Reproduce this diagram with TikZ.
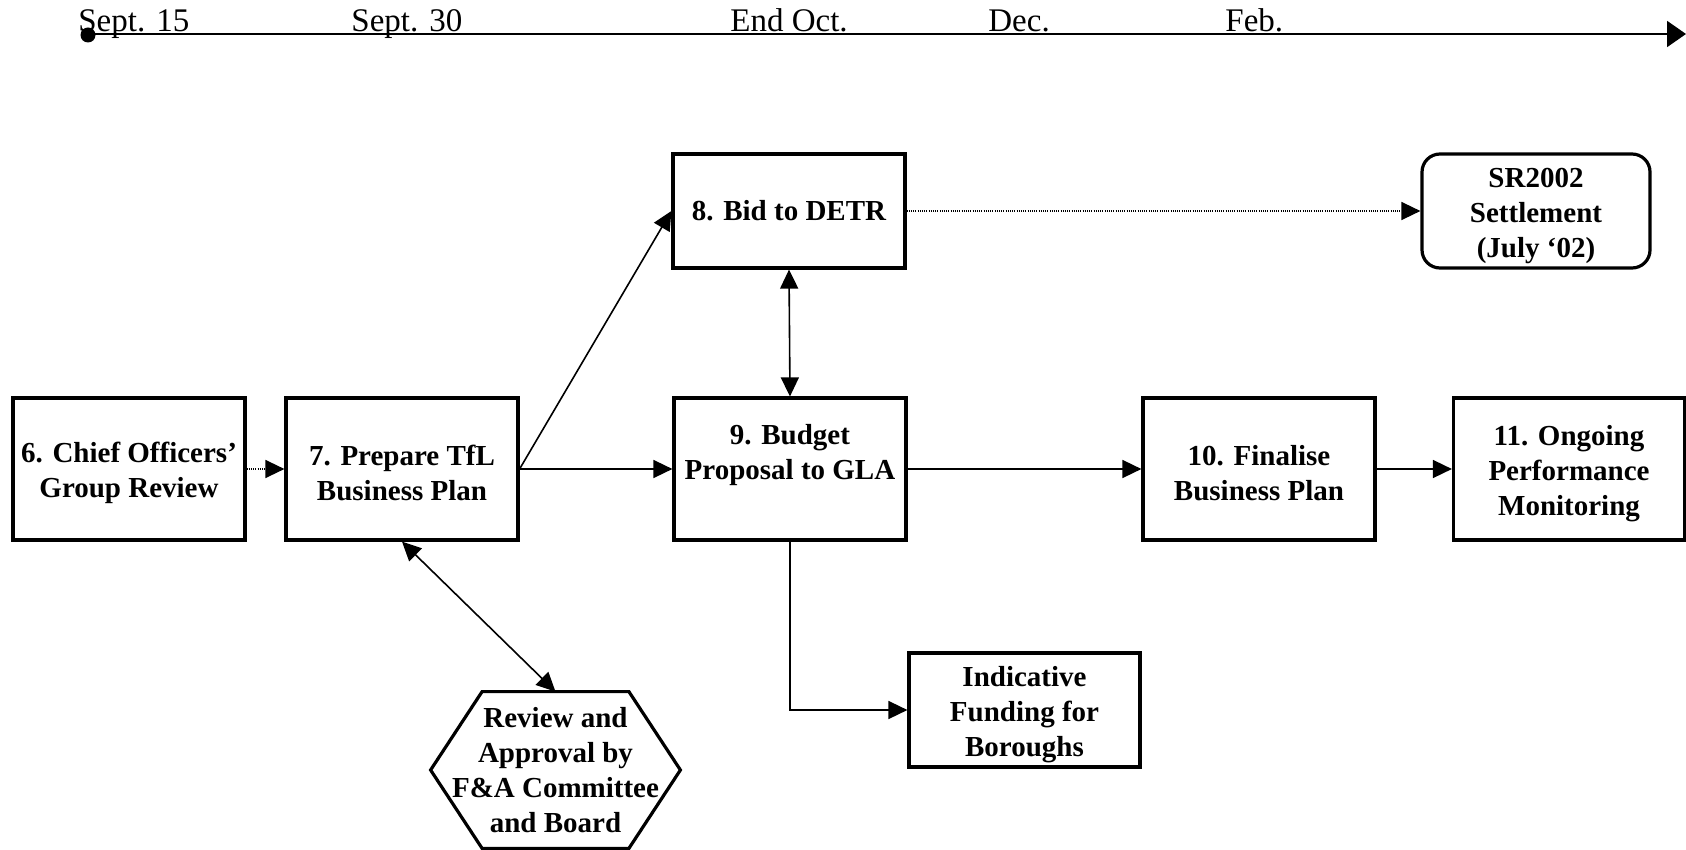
\documentclass[tikz,border=0pt]{standalone}
\usepackage{fontspec}
\setmainfont{Liberation Serif}
\usetikzlibrary{arrows.meta,calc}
\newcommand\mytopstrut{\rule{0pt}{14.5pt}}
\begin{document}
\begin{tikzpicture}[x=0.5pt,y=-0.5pt,
  bfont/.style={font=\bfseries\fontsize{14.5}{17.5}\selectfont},
  box/.style={draw, line width=1.6pt, minimum width=116pt, minimum height=71pt, inner sep=0pt, align=center, bfont},
  lowbox/.style={box, minimum height=57pt},
  rbox/.style={lowbox, rounded corners=9pt, minimum width=114pt},
  hexnode/.style={inner sep=0pt, minimum width=124.5pt, minimum height=78pt, align=center, bfont},
  hexline/.style={line width=1.6pt},
  conn/.style={line width=0.8pt, -{Triangle[length=9.5pt,width=9pt]}},
  dconn/.style={line width=0.8pt, {Triangle[length=9.5pt,width=9pt]}-{Triangle[length=9.5pt,width=9pt]}},
  dotconn/.style={line width=0.7pt, dash pattern=on 0.5pt off 0.6pt, -{Triangle[length=9.5pt,width=9pt]}},
  tlabel/.style={anchor=base west, inner sep=0pt, font=\fontsize{16.5}{19}\selectfont},
  dotnode/.style={circle, fill=black, inner sep=0pt, minimum size=7.5pt}
]
\useasboundingbox (0,0) rectangle (1686,850);

% timeline
\node[dotnode] (tstart) at (88,35) {};
\coordinate (tend) at (1686,34);
\draw[line width=1pt, -{Triangle[length=9.5pt,width=13pt]}] (88,34) -- (tend);
\node[tlabel] (l1) at (78,32) {Sept. 15};
\node[tlabel] (l2) at (351,32) {Sept. 30};
\node[tlabel] (l3) at (730,32) {End Oct.};
\node[tlabel] (l4) at (988,32) {Dec.};
\node[tlabel] (l5) at (1225,32) {Feb.};

% boxes
\node[box] (b6) at (129,469) {\mytopstrut 6. Chief Officers’\\Group Review};
\node[box] (b7) at (402,469) {\mytopstrut 7. Prepare TfL\\Business Plan};
\node[lowbox] (b8) at (789,211) {8. Bid to DETR};
\node[box] (b9) at (790,469) {9. Budget\\Proposal to GLA\\\mbox{}};
\node[box] (b10) at (1259,469) {\mytopstrut 10. Finalise\\Business Plan};
\node[box, minimum width=115.5pt] (b11) at (1569,469) {\mytopstrut 11. Ongoing\\Performance\\Monitoring};
\node[rbox] (sr) at (1536,211) {\mytopstrut SR2002\\Settlement\\(July ‘02)};
\node[lowbox, minimum width=115.5pt] (ind) at (1024.5,710) {\mytopstrut Indicative\\Funding for\\Boroughs};
\node[hexnode] (hex) at (555.5,770) {Review and\\Approval by\\F\&A Committee\\and Board};
\draw[hexline] (hex.west) -- ([xshift=25.75pt]hex.north west) -- ([xshift=-25.75pt]hex.north east)
  -- (hex.east) -- ([xshift=-25.75pt]hex.south east) -- ([xshift=25.75pt]hex.south west) -- cycle;

% connectors
\draw[dotconn] (b6.east) -- (b7.west);
\draw[conn] (b7.east) -- (b9.west);
\draw[conn] (b7.east) -- (b8.west);
\draw[dotconn] (b8.east) -- (sr.west);
\draw[dconn] (b8.south) -- (b9.north);
\draw[conn] (b9.east) -- (b10.west);
\draw[conn] (b10.east) -- (b11.west);
\draw[conn] (b9.south) |- (ind.west);
\draw[dconn] (b7.south) -- (hex.north);
\end{tikzpicture}
\end{document}
